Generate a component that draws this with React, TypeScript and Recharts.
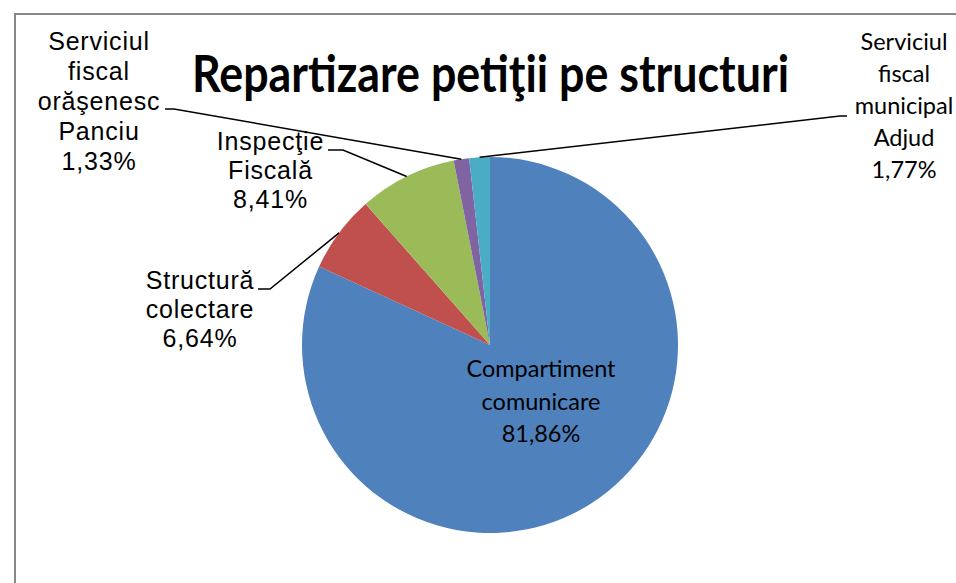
import { PieChart, Pie, Cell } from "recharts";

const title = "Repartizare petiţii pe structuri";
const categories = [
  "Compartiment comunicare",
  "Structură colectare",
  "Inspecţie Fiscală",
  "Serviciul fiscal orăşenesc Panciu",
  "Serviciul fiscal municipal Adjud",
];
const shares = [81.86, 6.64, 8.41, 1.33, 1.77];
const colors = ["#4F81BD", "#C0504D", "#9BBB59", "#8064A2", "#4BACC6"];

const CALIBRI = "Lato, 'Open Sans', sans-serif";
const ARIAL = "'Liberation Sans', Arial, sans-serif";

// where Excel left each data label (text centre, first baseline) and its leader elbow
const labelLayout = [
  { x: 541, y: 377, gap: 32.5, font: CALIBRI, size: 23.5, spacing: 0, leader: null },
  { x: 200, y: 289, gap: 29, font: ARIAL, size: 25, spacing: 0.8, leader: [[270, 289], [258, 289]] },
  { x: 270.5, y: 150, gap: 29, font: ARIAL, size: 25, spacing: 0.8, leader: [[343, 150], [328, 150]] },
  { x: 99, y: 50, gap: 30, font: ARIAL, size: 25, spacing: 0.8, leader: [[174, 109], [165, 109]] },
  { x: 904, y: 50, gap: 32, font: CALIBRI, size: 23.5, spacing: 0, leader: [[840, 116], [847, 116]] },
];

const data = categories.map((name, i) => ({ name, value: shares[i] }));

const RAD = Math.PI / 180;

const renderLabel = (props: any) => {
  const { cx, cy, midAngle, outerRadius, index, value, name } = props;
  const lay = labelLayout[index];
  const lines = [...String(name).split(" "), `${Number(value).toFixed(2).replace(".", ",")}%`];
  const sx = cx + outerRadius * Math.cos(-midAngle * RAD);
  const sy = cy + outerRadius * Math.sin(-midAngle * RAD);
  return (
    <g key={`lbl-${index}`}>
      {lay.leader && (
        <polyline
          points={[[sx, sy], ...lay.leader].map((p) => p.join(",")).join(" ")}
          fill="none"
          stroke="#000"
          strokeWidth={1.5}
        />
      )}
      <text
        x={lay.x}
        y={lay.y}
        textAnchor="middle"
        fontFamily={lay.font}
        fontSize={lay.size}
        letterSpacing={lay.spacing}
        fill="#000"
      >
        {lines.map((ln, k) => (
          <tspan key={k} x={lay.x} y={lay.y + k * lay.gap}>
            {ln}
          </tspan>
        ))}
      </text>
    </g>
  );
};

export default function App() {
  return (
    <div
      style={{
        position: "absolute",
        left: 0,
        top: 0,
        width: 956,
        height: 583,
        overflow: "hidden",
        background: "#fff",
      }}
    >
      <PieChart width={956} height={583} margin={{ top: 0, right: 0, bottom: 0, left: 0 }}>
        <Pie
          data={data}
          dataKey="value"
          nameKey="name"
          cx={490}
          cy={345}
          outerRadius={188}
          startAngle={90}
          endAngle={-270}
          stroke="none"
          label={renderLabel}
          labelLine={false}
          isAnimationActive={false}
        >
          {data.map((d, i) => (
            <Cell key={d.name} fill={colors[i]} />
          ))}
        </Pie>
      </PieChart>
      <svg
        width={956}
        height={583}
        style={{ position: "absolute", left: 0, top: 0, pointerEvents: "none" }}
      >
        <path d="M15,583 L15,14 L956,14" fill="none" stroke="#878787" strokeWidth={2} />
        <text
          x={192}
          y={92}
          fontFamily={CALIBRI}
          fontWeight={700}
          fontSize={51}
          textLength={597}
          lengthAdjust="spacingAndGlyphs"
          fill="#000"
        >
          {title}
        </text>
      </svg>
    </div>
  );
}
